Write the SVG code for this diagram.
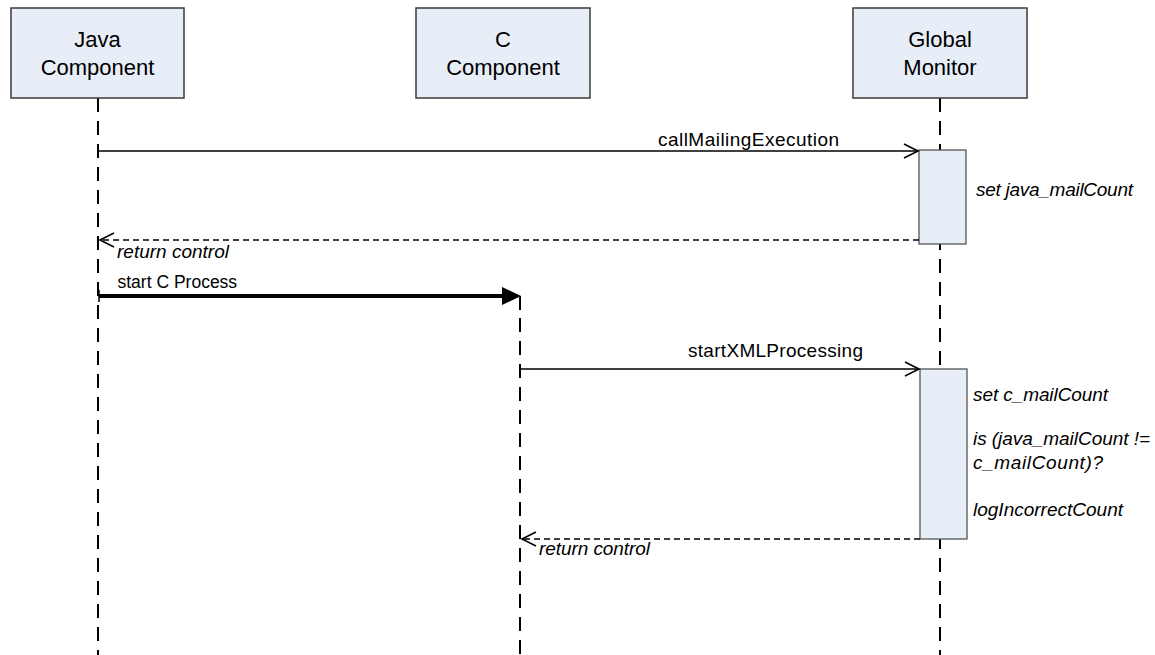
<svg xmlns="http://www.w3.org/2000/svg" width="1155" height="655" viewBox="0 0 1155 655">
  <defs>
    <style>
      .box { fill: #E8EEF7; stroke: #3a3a3a; stroke-width: 1.5; }
      .act { fill: #E8EEF7; stroke: #555; stroke-width: 1.3; }
      .life { stroke: #000; stroke-width: 2; stroke-dasharray: 14 9; fill: none; }
      .msg { stroke: #000; stroke-width: 1.6; fill: none; }
      .ret { stroke: #000; stroke-width: 1.5; stroke-dasharray: 6 4; fill: none; }
      .thick { stroke: #000; stroke-width: 4; fill: none; }
      .name { font-family: "Liberation Sans", Arial, sans-serif; font-size: 22px; fill: #000; text-anchor: middle; }
      .lbl { font-family: "Liberation Sans", Arial, sans-serif; font-size: 19px; fill: #000; }
      .it { font-family: "Liberation Sans", Arial, sans-serif; font-size: 19px; font-style: italic; fill: #000; }
    </style>
    <marker id="open" markerUnits="userSpaceOnUse" markerWidth="20" markerHeight="20" viewBox="-16 -10 20 20" refX="0" refY="0" orient="auto">
      <path d="M -14 -7 L 0 0 L -14 7" fill="none" stroke="#000" stroke-width="1.6"/>
    </marker>
  </defs>

  <g id="lifelines">
    <line class="life" x1="98" y1="98" x2="98" y2="655"/>
    <line x1="520" y1="296" x2="520" y2="310" stroke="#000" stroke-width="2"/>
    <line class="life" x1="520" y1="318" x2="520" y2="655"/>
    <line class="life" x1="940" y1="98" x2="940" y2="655"/>
  </g>

  <g id="java-component">
    <rect class="box" x="11" y="8" width="173" height="90"/>
    <text class="name" x="97.5" y="47">Java</text>
    <text class="name" x="97.5" y="75">Component</text>
  </g>

  <g id="c-component">
    <rect class="box" x="416" y="8" width="174" height="90"/>
    <text class="name" x="503" y="47">C</text>
    <text class="name" x="503" y="75">Component</text>
  </g>

  <g id="global-monitor">
    <rect class="box" x="853" y="8" width="174" height="90"/>
    <text class="name" x="940" y="47">Global</text>
    <text class="name" x="940" y="75">Monitor</text>
  </g>

  <g id="activation-1">
    <rect class="act" x="919" y="150" width="47" height="94"/>
    <text class="it" x="976" y="196" textLength="157">set java_mailCount</text>
  </g>

  <g id="activation-2">
    <rect class="act" x="920" y="369" width="47" height="170"/>
    <text class="it" x="973" y="401" textLength="135">set c_mailCount</text>
    <text class="it" x="973" y="445" textLength="177">is (java_mailCount !=</text>
    <text class="it" x="973" y="469" textLength="130">c_mailCount)?</text>
    <text class="it" x="973" y="516" textLength="150">logIncorrectCount</text>
  </g>

  <g id="connectors">
    <line class="msg" x1="99" y1="151" x2="918" y2="151" marker-end="url(#open)"/>
    <text class="lbl" x="658" y="146" textLength="181">callMailingExecution</text>

    <line class="ret" x1="919" y1="240" x2="100" y2="240" marker-end="url(#open)"/>
    <text class="it" x="117" y="258" textLength="112">return control</text>

    <line class="thick" x1="99" y1="296" x2="505" y2="296"/>
    <line x1="99" y1="290" x2="99" y2="302" stroke="#000" stroke-width="1.5"/>
    <path d="M 502 287 L 521 296 L 502 305 Z" fill="#000"/>
    <text class="lbl" x="117.5" y="288" style="font-size:17.5px">start C Process</text>

    <line class="msg" x1="520" y1="369" x2="919" y2="369" marker-end="url(#open)"/>
    <text class="lbl" x="688" y="357" textLength="175">startXMLProcessing</text>

    <line class="ret" x1="920" y1="539" x2="522" y2="539" marker-end="url(#open)"/>
    <text class="it" x="539" y="555" textLength="111">return control</text>
  </g>
</svg>
